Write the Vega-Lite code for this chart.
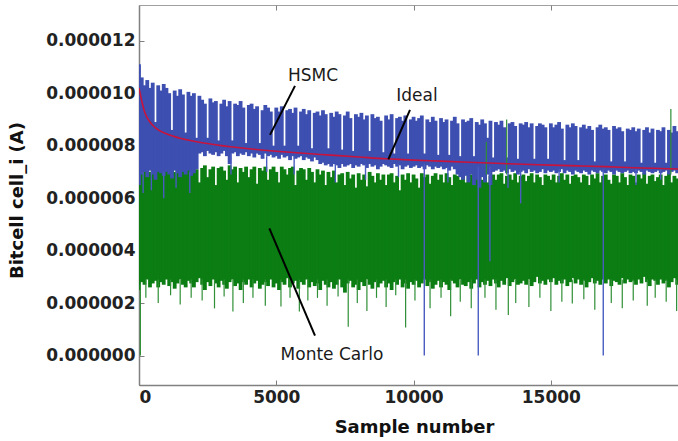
{
"$schema":"https://vega.github.io/schema/vega-lite/v6.json",
"width":539,"height":380,
"autosize":{"type":"none"},
"padding":{"left":139,"top":5,"right":0,"bottom":56},
"background":"white",
"config":{"view":{"stroke":"#a0a0a0","strokeWidth":1},"font":"DejaVu Sans"},
"datasets":{
"mc":[
{"x":0,"lo":2.5e-6,"hi":7.2e-6},{"x":100,"lo":2.8e-6,"hi":7.3e-6},{"x":200,"lo":2.7e-6,"hi":7.1e-6},{"x":300,"lo":2.9e-6,"hi":7.25e-6},{"x":400,"lo":2.6e-6,"hi":7.0e-6},{"x":500,"lo":2.75e-6,"hi":7.3e-6},{"x":600,"lo":2.85e-6,"hi":7.15e-6},{"x":700,"lo":2.6e-6,"hi":7.2e-6},{"x":800,"lo":2.8e-6,"hi":7.05e-6},{"x":900,"lo":2.7e-6,"hi":7.3e-6},
{"x":1000,"lo":2.9e-6,"hi":7.1e-6},{"x":1100,"lo":2.65e-6,"hi":7.25e-6},{"x":1200,"lo":2.8e-6,"hi":7.2e-6},{"x":1300,"lo":2.55e-6,"hi":7.0e-6},{"x":1400,"lo":2.75e-6,"hi":7.3e-6},{"x":1500,"lo":2.9e-6,"hi":7.15e-6},{"x":1600,"lo":2.7e-6,"hi":7.2e-6},{"x":1700,"lo":2.6e-6,"hi":7.1e-6},{"x":1800,"lo":2.85e-6,"hi":7.25e-6},{"x":1900,"lo":2.75e-6,"hi":7.05e-6},
{"x":2000,"lo":2.6e-6,"hi":7.2e-6},{"x":2100,"lo":2.8e-6,"hi":7.1e-6},{"x":2200,"lo":2.95e-6,"hi":6.6e-6},{"x":2300,"lo":2.7e-6,"hi":7.15e-6},{"x":2400,"lo":2.5e-6,"hi":7.25e-6},{"x":2500,"lo":2.8e-6,"hi":6.8e-6},{"x":2600,"lo":2.65e-6,"hi":7.1e-6},{"x":2700,"lo":2.9e-6,"hi":7.2e-6},{"x":2800,"lo":2.75e-6,"hi":6.5e-6},{"x":2900,"lo":2.6e-6,"hi":7.15e-6},
{"x":3000,"lo":2.85e-6,"hi":7.2e-6},{"x":3100,"lo":2.7e-6,"hi":7.05e-6},{"x":3200,"lo":2.55e-6,"hi":6.7e-6},{"x":3300,"lo":2.8e-6,"hi":7.25e-6},{"x":3400,"lo":2.9e-6,"hi":7.1e-6},{"x":3500,"lo":2.65e-6,"hi":7.2e-6},{"x":3600,"lo":2.75e-6,"hi":6.6e-6},{"x":3700,"lo":2.5e-6,"hi":7.15e-6},{"x":3800,"lo":2.8e-6,"hi":7.0e-6},{"x":3900,"lo":2.7e-6,"hi":7.2e-6},
{"x":4000,"lo":2.9e-6,"hi":6.8e-6},{"x":4100,"lo":2.6e-6,"hi":7.1e-6},{"x":4200,"lo":2.75e-6,"hi":7.2e-6},{"x":4300,"lo":2.85e-6,"hi":6.55e-6},{"x":4400,"lo":2.55e-6,"hi":7.15e-6},{"x":4500,"lo":2.7e-6,"hi":7.05e-6},{"x":4600,"lo":2.8e-6,"hi":7.2e-6},{"x":4700,"lo":2.65e-6,"hi":6.7e-6},{"x":4800,"lo":2.9e-6,"hi":7.1e-6},{"x":4900,"lo":2.6e-6,"hi":7.2e-6},
{"x":5000,"lo":2.75e-6,"hi":7.0e-6},{"x":5100,"lo":2.5e-6,"hi":6.6e-6},{"x":5200,"lo":2.8e-6,"hi":7.2e-6},{"x":5300,"lo":2.7e-6,"hi":7.1e-6},{"x":5400,"lo":2.95e-6,"hi":6.9e-6},{"x":5500,"lo":2.6e-6,"hi":7.15e-6},{"x":5600,"lo":2.75e-6,"hi":7.2e-6},{"x":5700,"lo":2.85e-6,"hi":6.5e-6},{"x":5800,"lo":2.55e-6,"hi":7.05e-6},{"x":5900,"lo":2.8e-6,"hi":7.15e-6},
{"x":6000,"lo":2.7e-6,"hi":7.1e-6},{"x":6100,"lo":2.9e-6,"hi":6.7e-6},{"x":6200,"lo":2.6e-6,"hi":7.15e-6},{"x":6300,"lo":2.8e-6,"hi":7.0e-6},{"x":6400,"lo":2.65e-6,"hi":6.6e-6},{"x":6500,"lo":2.75e-6,"hi":7.1e-6},{"x":6600,"lo":2.5e-6,"hi":6.9e-6},{"x":6700,"lo":2.85e-6,"hi":7.05e-6},{"x":6800,"lo":2.7e-6,"hi":6.5e-6},{"x":6900,"lo":2.6e-6,"hi":7.0e-6},
{"x":7000,"lo":2.8e-6,"hi":6.8e-6},{"x":7100,"lo":2.55e-6,"hi":7.05e-6},{"x":7200,"lo":2.7e-6,"hi":6.6e-6},{"x":7300,"lo":2.9e-6,"hi":6.9e-6},{"x":7400,"lo":2.6e-6,"hi":6.95e-6},{"x":7500,"lo":2.4e-6,"hi":6.5e-6},{"x":7600,"lo":2.75e-6,"hi":7.0e-6},{"x":7700,"lo":2.85e-6,"hi":6.75e-6},{"x":7800,"lo":2.6e-6,"hi":6.9e-6},{"x":7900,"lo":2.7e-6,"hi":6.4e-6},
{"x":8000,"lo":2.5e-6,"hi":6.95e-6},{"x":8100,"lo":2.8e-6,"hi":6.7e-6},{"x":8200,"lo":2.65e-6,"hi":6.9e-6},{"x":8300,"lo":2.9e-6,"hi":6.45e-6},{"x":8400,"lo":2.7e-6,"hi":7.0e-6},{"x":8500,"lo":2.55e-6,"hi":6.85e-6},{"x":8600,"lo":2.8e-6,"hi":6.6e-6},{"x":8700,"lo":2.6e-6,"hi":6.95e-6},{"x":8800,"lo":2.75e-6,"hi":6.7e-6},{"x":8900,"lo":2.85e-6,"hi":6.9e-6},
{"x":9000,"lo":2.6e-6,"hi":6.5e-6},{"x":9100,"lo":2.75e-6,"hi":6.9e-6},{"x":9200,"lo":2.5e-6,"hi":6.95e-6},{"x":9300,"lo":2.8e-6,"hi":6.6e-6},{"x":9400,"lo":2.7e-6,"hi":6.85e-6},{"x":9500,"lo":2.9e-6,"hi":6.3e-6},{"x":9600,"lo":2.6e-6,"hi":6.9e-6},{"x":9700,"lo":2.75e-6,"hi":6.7e-6},{"x":9800,"lo":2.55e-6,"hi":6.95e-6},{"x":9900,"lo":2.8e-6,"hi":6.6e-6},
{"x":10000,"lo":2.7e-6,"hi":6.9e-6},{"x":10100,"lo":2.85e-6,"hi":6.75e-6},{"x":10200,"lo":2.6e-6,"hi":6.4e-6},{"x":10300,"lo":2.75e-6,"hi":6.95e-6},{"x":10400,"lo":2.9e-6,"hi":6.8e-6},{"x":10500,"lo":2.65e-6,"hi":6.9e-6},{"x":10600,"lo":2.8e-6,"hi":6.55e-6},{"x":10700,"lo":2.55e-6,"hi":6.85e-6},{"x":10800,"lo":2.7e-6,"hi":6.95e-6},{"x":10900,"lo":2.85e-6,"hi":6.7e-6},
{"x":11000,"lo":2.6e-6,"hi":6.9e-6},{"x":11100,"lo":2.8e-6,"hi":6.6e-6},{"x":11200,"lo":2.7e-6,"hi":6.95e-6},{"x":11300,"lo":2.5e-6,"hi":6.8e-6},{"x":11400,"lo":2.85e-6,"hi":6.5e-6},{"x":11500,"lo":2.75e-6,"hi":6.9e-6},{"x":11600,"lo":2.6e-6,"hi":6.85e-6},{"x":11700,"lo":2.9e-6,"hi":6.7e-6},{"x":11800,"lo":2.7e-6,"hi":6.95e-6},{"x":11900,"lo":2.65e-6,"hi":6.6e-6},
{"x":12000,"lo":2.8e-6,"hi":6.85e-6},{"x":12100,"lo":2.55e-6,"hi":6.9e-6},{"x":12200,"lo":2.75e-6,"hi":6.5e-6},{"x":12300,"lo":2.9e-6,"hi":6.8e-6},{"x":12400,"lo":2.6e-6,"hi":6.95e-6},{"x":12500,"lo":2.8e-6,"hi":6.7e-6},{"x":12600,"lo":2.7e-6,"hi":6.9e-6},{"x":12700,"lo":2.85e-6,"hi":6.6e-6},{"x":12800,"lo":2.65e-6,"hi":6.85e-6},{"x":12900,"lo":2.9e-6,"hi":6.9e-6},
{"x":13000,"lo":2.75e-6,"hi":6.7e-6},{"x":13100,"lo":2.6e-6,"hi":6.9e-6},{"x":13200,"lo":2.85e-6,"hi":6.95e-6},{"x":13300,"lo":2.7e-6,"hi":6.55e-6},{"x":13400,"lo":2.95e-6,"hi":6.85e-6},{"x":13500,"lo":2.65e-6,"hi":6.9e-6},{"x":13600,"lo":2.8e-6,"hi":6.7e-6},{"x":13700,"lo":2.9e-6,"hi":6.95e-6},{"x":13800,"lo":2.7e-6,"hi":6.6e-6},{"x":13900,"lo":2.75e-6,"hi":6.85e-6},
{"x":14000,"lo":2.85e-6,"hi":6.9e-6},{"x":14100,"lo":2.7e-6,"hi":6.65e-6},{"x":14200,"lo":2.9e-6,"hi":6.85e-6},{"x":14300,"lo":2.65e-6,"hi":6.95e-6},{"x":14400,"lo":2.8e-6,"hi":6.6e-6},{"x":14500,"lo":3.0e-6,"hi":6.9e-6},{"x":14600,"lo":2.75e-6,"hi":6.8e-6},{"x":14700,"lo":2.85e-6,"hi":6.5e-6},{"x":14800,"lo":2.7e-6,"hi":6.9e-6},{"x":14900,"lo":2.9e-6,"hi":6.85e-6},
{"x":15000,"lo":2.8e-6,"hi":6.7e-6},{"x":15100,"lo":2.95e-6,"hi":6.9e-6},{"x":15200,"lo":2.7e-6,"hi":6.6e-6},{"x":15300,"lo":2.85e-6,"hi":6.85e-6},{"x":15400,"lo":2.75e-6,"hi":6.95e-6},{"x":15500,"lo":2.9e-6,"hi":6.7e-6},{"x":15600,"lo":2.65e-6,"hi":6.9e-6},{"x":15700,"lo":2.8e-6,"hi":6.55e-6},{"x":15800,"lo":2.95e-6,"hi":6.85e-6},{"x":15900,"lo":2.75e-6,"hi":6.9e-6},
{"x":16000,"lo":2.9e-6,"hi":6.8e-6},{"x":16100,"lo":2.7e-6,"hi":6.6e-6},{"x":16200,"lo":2.85e-6,"hi":6.9e-6},{"x":16300,"lo":2.6e-6,"hi":6.85e-6},{"x":16400,"lo":2.8e-6,"hi":6.5e-6},{"x":16500,"lo":2.95e-6,"hi":6.9e-6},{"x":16600,"lo":2.75e-6,"hi":6.75e-6},{"x":16700,"lo":2.85e-6,"hi":6.95e-6},{"x":16800,"lo":2.7e-6,"hi":6.6e-6},{"x":16900,"lo":2.9e-6,"hi":6.85e-6},
{"x":17000,"lo":2.75e-6,"hi":6.9e-6},{"x":17100,"lo":2.9e-6,"hi":6.7e-6},{"x":17200,"lo":2.65e-6,"hi":6.55e-6},{"x":17300,"lo":2.85e-6,"hi":6.9e-6},{"x":17400,"lo":2.8e-6,"hi":6.85e-6},{"x":17500,"lo":2.7e-6,"hi":6.6e-6},{"x":17600,"lo":2.95e-6,"hi":6.95e-6},{"x":17700,"lo":2.75e-6,"hi":6.8e-6},{"x":17800,"lo":2.9e-6,"hi":6.5e-6},{"x":17900,"lo":2.8e-6,"hi":6.9e-6},
{"x":18000,"lo":2.85e-6,"hi":6.85e-6},{"x":18100,"lo":2.7e-6,"hi":6.6e-6},{"x":18200,"lo":2.9e-6,"hi":6.9e-6},{"x":18300,"lo":2.75e-6,"hi":6.75e-6},{"x":18400,"lo":3.0e-6,"hi":6.95e-6},{"x":18500,"lo":2.8e-6,"hi":6.55e-6},{"x":18600,"lo":2.65e-6,"hi":6.85e-6},{"x":18700,"lo":2.9e-6,"hi":6.9e-6},{"x":18800,"lo":2.85e-6,"hi":6.65e-6},{"x":18900,"lo":2.7e-6,"hi":6.8e-6},
{"x":19000,"lo":2.9e-6,"hi":6.9e-6},{"x":19100,"lo":2.75e-6,"hi":6.5e-6},{"x":19200,"lo":2.85e-6,"hi":6.85e-6},{"x":19300,"lo":2.6e-6,"hi":6.95e-6},{"x":19400,"lo":2.8e-6,"hi":6.6e-6},{"x":19500,"lo":2.95e-6,"hi":6.85e-6},{"x":19600,"lo":2.7e-6,"hi":6.75e-6}
],
"hs":[
{"x":0,"lo":6.5e-6,"hi":11.1e-6},{"x":100,"lo":6.9e-6,"hi":10.6e-6},{"x":200,"lo":7.0e-6,"hi":10.3e-6},{"x":300,"lo":6.8e-6,"hi":10.5e-6},{"x":400,"lo":7.05e-6,"hi":10.2e-6},{"x":500,"lo":6.9e-6,"hi":10.4e-6},{"x":600,"lo":6.7e-6,"hi":8.9e-6},{"x":700,"lo":7.0e-6,"hi":10.3e-6},{"x":800,"lo":6.95e-6,"hi":10.1e-6},{"x":900,"lo":6.85e-6,"hi":10.35e-6},
{"x":1000,"lo":7.0e-6,"hi":10.2e-6},{"x":1100,"lo":6.9e-6,"hi":10.0e-6},{"x":1200,"lo":6.75e-6,"hi":8.6e-6},{"x":1300,"lo":7.05e-6,"hi":10.1e-6},{"x":1400,"lo":6.95e-6,"hi":9.9e-6},{"x":1500,"lo":6.8e-6,"hi":10.15e-6},{"x":1600,"lo":7.0e-6,"hi":9.95e-6},{"x":1700,"lo":6.9e-6,"hi":8.5e-6},{"x":1800,"lo":7.05e-6,"hi":10.05e-6},{"x":1900,"lo":6.85e-6,"hi":9.9e-6},
{"x":2000,"lo":6.95e-6,"hi":10.0e-6},{"x":2100,"lo":7.1e-6,"hi":8.3e-6},{"x":2200,"lo":7.7e-6,"hi":9.9e-6},{"x":2300,"lo":7.75e-6,"hi":9.75e-6},{"x":2400,"lo":7.6e-6,"hi":9.6e-6},{"x":2500,"lo":7.8e-6,"hi":8.3e-6},{"x":2600,"lo":7.7e-6,"hi":9.8e-6},{"x":2700,"lo":7.65e-6,"hi":9.65e-6},{"x":2800,"lo":7.75e-6,"hi":9.7e-6},{"x":2900,"lo":7.6e-6,"hi":8.2e-6},
{"x":3000,"lo":7.7e-6,"hi":9.6e-6},{"x":3100,"lo":7.8e-6,"hi":9.75e-6},{"x":3200,"lo":7.6e-6,"hi":9.5e-6},{"x":3300,"lo":7.3e-6,"hi":9.7e-6},{"x":3400,"lo":7.7e-6,"hi":8.2e-6},{"x":3500,"lo":7.75e-6,"hi":9.6e-6},{"x":3600,"lo":7.6e-6,"hi":9.55e-6},{"x":3700,"lo":7.7e-6,"hi":9.7e-6},{"x":3800,"lo":7.65e-6,"hi":9.45e-6},{"x":3900,"lo":7.75e-6,"hi":8.1e-6},
{"x":4000,"lo":7.6e-6,"hi":9.55e-6},{"x":4100,"lo":7.7e-6,"hi":9.6e-6},{"x":4200,"lo":7.55e-6,"hi":9.4e-6},{"x":4300,"lo":7.7e-6,"hi":9.5e-6},{"x":4400,"lo":7.65e-6,"hi":8.1e-6},{"x":4500,"lo":7.5e-6,"hi":9.35e-6},{"x":4600,"lo":7.7e-6,"hi":9.55e-6},{"x":4700,"lo":7.6e-6,"hi":9.45e-6},{"x":4800,"lo":7.65e-6,"hi":9.3e-6},{"x":4900,"lo":7.55e-6,"hi":8.0e-6},
{"x":5000,"lo":7.6e-6,"hi":9.45e-6},{"x":5100,"lo":7.5e-6,"hi":9.3e-6},{"x":5200,"lo":7.65e-6,"hi":9.5e-6},{"x":5300,"lo":7.55e-6,"hi":8.0e-6},{"x":5400,"lo":7.6e-6,"hi":9.35e-6},{"x":5500,"lo":7.45e-6,"hi":9.4e-6},{"x":5600,"lo":7.6e-6,"hi":9.25e-6},{"x":5700,"lo":7.5e-6,"hi":9.45e-6},{"x":5800,"lo":7.55e-6,"hi":8.0e-6},{"x":5900,"lo":7.6e-6,"hi":9.3e-6},
{"x":6000,"lo":7.45e-6,"hi":9.4e-6},{"x":6100,"lo":7.55e-6,"hi":9.2e-6},{"x":6200,"lo":7.5e-6,"hi":9.35e-6},{"x":6300,"lo":7.4e-6,"hi":7.9e-6},{"x":6400,"lo":7.55e-6,"hi":9.25e-6},{"x":6500,"lo":7.45e-6,"hi":9.3e-6},{"x":6600,"lo":7.3e-6,"hi":9.15e-6},{"x":6700,"lo":7.35e-6,"hi":9.35e-6},{"x":6800,"lo":7.25e-6,"hi":9.2e-6},{"x":6900,"lo":7.3e-6,"hi":7.9e-6},
{"x":7000,"lo":7.2e-6,"hi":9.25e-6},{"x":7100,"lo":7.3e-6,"hi":9.1e-6},{"x":7200,"lo":7.25e-6,"hi":9.3e-6},{"x":7300,"lo":7.15e-6,"hi":9.2e-6},{"x":7400,"lo":7.3e-6,"hi":7.85e-6},{"x":7500,"lo":7.2e-6,"hi":9.15e-6},{"x":7600,"lo":7.25e-6,"hi":9.3e-6},{"x":7700,"lo":7.3e-6,"hi":9.05e-6},{"x":7800,"lo":7.15e-6,"hi":7.8e-6},{"x":7900,"lo":7.25e-6,"hi":9.2e-6},
{"x":8000,"lo":7.2e-6,"hi":9.1e-6},{"x":8100,"lo":7.3e-6,"hi":9.25e-6},{"x":8200,"lo":7.25e-6,"hi":9.0e-6},{"x":8300,"lo":7.15e-6,"hi":9.15e-6},{"x":8400,"lo":7.3e-6,"hi":7.8e-6},{"x":8500,"lo":7.2e-6,"hi":9.2e-6},{"x":8600,"lo":7.25e-6,"hi":9.05e-6},{"x":8700,"lo":7.1e-6,"hi":9.1e-6},{"x":8800,"lo":7.2e-6,"hi":8.95e-6},{"x":8900,"lo":7.3e-6,"hi":7.75e-6},
{"x":9000,"lo":7.25e-6,"hi":9.15e-6},{"x":9100,"lo":7.2e-6,"hi":9.0e-6},{"x":9200,"lo":7.15e-6,"hi":9.2e-6},{"x":9300,"lo":7.3e-6,"hi":7.7e-6},{"x":9400,"lo":7.2e-6,"hi":9.05e-6},{"x":9500,"lo":7.25e-6,"hi":9.1e-6},{"x":9600,"lo":7.1e-6,"hi":8.95e-6},{"x":9700,"lo":7.2e-6,"hi":9.15e-6},{"x":9800,"lo":7.25e-6,"hi":7.7e-6},{"x":9900,"lo":7.15e-6,"hi":9.0e-6},
{"x":10000,"lo":7.2e-6,"hi":9.1e-6},{"x":10100,"lo":7.25e-6,"hi":8.95e-6},{"x":10200,"lo":7.15e-6,"hi":9.05e-6},{"x":10300,"lo":7.2e-6,"hi":9.15e-6},{"x":10400,"lo":7.1e-6,"hi":7.7e-6},{"x":10500,"lo":7.25e-6,"hi":9.0e-6},{"x":10600,"lo":7.2e-6,"hi":8.9e-6},{"x":10700,"lo":7.1e-6,"hi":9.1e-6},{"x":10800,"lo":7.2e-6,"hi":8.95e-6},{"x":10900,"lo":7.15e-6,"hi":7.65e-6},
{"x":11000,"lo":7.2e-6,"hi":9.05e-6},{"x":11100,"lo":7.1e-6,"hi":8.9e-6},{"x":11200,"lo":7.15e-6,"hi":9.0e-6},{"x":11300,"lo":7.05e-6,"hi":7.65e-6},{"x":11400,"lo":7.2e-6,"hi":8.95e-6},{"x":11500,"lo":7.1e-6,"hi":9.1e-6},{"x":11600,"lo":6.9e-6,"hi":8.85e-6},{"x":11700,"lo":6.8e-6,"hi":7.6e-6},{"x":11800,"lo":6.7e-6,"hi":9.0e-6},{"x":11900,"lo":6.85e-6,"hi":8.9e-6},
{"x":12000,"lo":6.6e-6,"hi":8.95e-6},{"x":12100,"lo":6.9e-6,"hi":9.05e-6},{"x":12200,"lo":6.5e-6,"hi":7.6e-6},{"x":12300,"lo":6.7e-6,"hi":8.9e-6},{"x":12400,"lo":6.4e-6,"hi":8.8e-6},{"x":12500,"lo":6.8e-6,"hi":9.0e-6},{"x":12600,"lo":6.6e-6,"hi":8.85e-6},{"x":12700,"lo":6.9e-6,"hi":8.3e-6},{"x":12800,"lo":6.5e-6,"hi":8.95e-6},{"x":12900,"lo":7.0e-6,"hi":7.55e-6},
{"x":13000,"lo":7.05e-6,"hi":8.9e-6},{"x":13100,"lo":7.1e-6,"hi":8.8e-6},{"x":13200,"lo":7.0e-6,"hi":8.95e-6},{"x":13300,"lo":7.05e-6,"hi":8.7e-6},{"x":13400,"lo":6.95e-6,"hi":7.55e-6},{"x":13500,"lo":7.1e-6,"hi":8.85e-6},{"x":13600,"lo":7.0e-6,"hi":8.9e-6},{"x":13700,"lo":7.05e-6,"hi":8.75e-6},{"x":13800,"lo":6.9e-6,"hi":7.5e-6},{"x":13900,"lo":7.0e-6,"hi":8.85e-6},
{"x":14000,"lo":7.05e-6,"hi":8.8e-6},{"x":14100,"lo":6.95e-6,"hi":8.9e-6},{"x":14200,"lo":7.1e-6,"hi":8.7e-6},{"x":14300,"lo":7.0e-6,"hi":8.85e-6},{"x":14400,"lo":7.05e-6,"hi":7.5e-6},{"x":14500,"lo":6.95e-6,"hi":8.75e-6},{"x":14600,"lo":7.0e-6,"hi":8.85e-6},{"x":14700,"lo":7.1e-6,"hi":8.8e-6},{"x":14800,"lo":6.95e-6,"hi":8.7e-6},{"x":14900,"lo":7.05e-6,"hi":7.5e-6},
{"x":15000,"lo":7.0e-6,"hi":8.85e-6},{"x":15100,"lo":7.05e-6,"hi":8.7e-6},{"x":15200,"lo":6.95e-6,"hi":8.8e-6},{"x":15300,"lo":7.0e-6,"hi":8.9e-6},{"x":15400,"lo":7.1e-6,"hi":8.65e-6},{"x":15500,"lo":6.95e-6,"hi":7.45e-6},{"x":15600,"lo":7.05e-6,"hi":8.8e-6},{"x":15700,"lo":7.0e-6,"hi":8.7e-6},{"x":15800,"lo":6.9e-6,"hi":8.85e-6},{"x":15900,"lo":7.05e-6,"hi":8.75e-6},
{"x":16000,"lo":7.0e-6,"hi":7.45e-6},{"x":16100,"lo":6.95e-6,"hi":8.7e-6},{"x":16200,"lo":7.05e-6,"hi":8.8e-6},{"x":16300,"lo":7.0e-6,"hi":8.65e-6},{"x":16400,"lo":6.9e-6,"hi":8.75e-6},{"x":16500,"lo":7.05e-6,"hi":8.6e-6},{"x":16600,"lo":7.0e-6,"hi":7.4e-6},{"x":16700,"lo":6.95e-6,"hi":8.7e-6},{"x":16800,"lo":7.05e-6,"hi":8.8e-6},{"x":16900,"lo":7.0e-6,"hi":8.65e-6},
{"x":17000,"lo":6.95e-6,"hi":8.7e-6},{"x":17100,"lo":7.05e-6,"hi":8.6e-6},{"x":17200,"lo":7.0e-6,"hi":7.4e-6},{"x":17300,"lo":6.9e-6,"hi":8.75e-6},{"x":17400,"lo":7.05e-6,"hi":8.65e-6},{"x":17500,"lo":7.0e-6,"hi":8.7e-6},{"x":17600,"lo":6.95e-6,"hi":8.55e-6},{"x":17700,"lo":7.0e-6,"hi":7.4e-6},{"x":17800,"lo":7.05e-6,"hi":8.65e-6},{"x":17900,"lo":6.95e-6,"hi":8.6e-6},
{"x":18000,"lo":7.0e-6,"hi":8.7e-6},{"x":18100,"lo":6.95e-6,"hi":8.55e-6},{"x":18200,"lo":7.05e-6,"hi":8.65e-6},{"x":18300,"lo":7.0e-6,"hi":7.35e-6},{"x":18400,"lo":6.9e-6,"hi":8.6e-6},{"x":18500,"lo":7.05e-6,"hi":8.7e-6},{"x":18600,"lo":7.0e-6,"hi":8.5e-6},{"x":18700,"lo":6.95e-6,"hi":8.65e-6},{"x":18800,"lo":7.0e-6,"hi":7.35e-6},{"x":18900,"lo":7.05e-6,"hi":8.6e-6},
{"x":19000,"lo":6.95e-6,"hi":8.55e-6},{"x":19100,"lo":7.0e-6,"hi":8.7e-6},{"x":19200,"lo":7.05e-6,"hi":7.35e-6},{"x":19300,"lo":6.9e-6,"hi":8.6e-6},{"x":19400,"lo":7.0e-6,"hi":8.5e-6},{"x":19500,"lo":7.05e-6,"hi":8.75e-6},{"x":19600,"lo":6.95e-6,"hi":8.55e-6}
],
"mcs":[
{"x":50,"lo":0,"hi":2.7e-6},{"x":250,"lo":2.2e-6,"hi":2.9e-6},{"x":700,"lo":2.0e-6,"hi":2.9e-6},{"x":1150,"lo":2.3e-6,"hi":2.9e-6},{"x":1500,"lo":1.95e-6,"hi":2.9e-6},{"x":1900,"lo":2.2e-6,"hi":2.9e-6},{"x":2300,"lo":2.1e-6,"hi":2.9e-6},{"x":2750,"lo":1.8e-6,"hi":2.9e-6},{"x":3100,"lo":2.25e-6,"hi":2.9e-6},{"x":3420,"lo":1.68e-6,"hi":2.9e-6},{"x":3800,"lo":2.0e-6,"hi":2.9e-6},{"x":4150,"lo":2.2e-6,"hi":2.9e-6},{"x":4600,"lo":1.9e-6,"hi":2.9e-6},{"x":5170,"lo":1.87e-6,"hi":2.9e-6},{"x":5500,"lo":2.2e-6,"hi":2.9e-6},{"x":5840,"lo":1.68e-6,"hi":2.9e-6},{"x":6150,"lo":2.1e-6,"hi":2.9e-6},{"x":6500,"lo":2.2e-6,"hi":2.9e-6},{"x":6850,"lo":1.9e-6,"hi":2.9e-6},{"x":7250,"lo":2.25e-6,"hi":2.9e-6},{"x":7620,"lo":1.1e-6,"hi":2.9e-6},{"x":7950,"lo":2.0e-6,"hi":2.9e-6},{"x":8300,"lo":1.7e-6,"hi":2.9e-6},{"x":8650,"lo":2.2e-6,"hi":2.9e-6},{"x":9000,"lo":1.85e-6,"hi":2.9e-6},{"x":9350,"lo":2.3e-6,"hi":2.9e-6},{"x":9710,"lo":1.07e-6,"hi":2.9e-6},{"x":10050,"lo":2.1e-6,"hi":2.9e-6},{"x":10600,"lo":1.8e-6,"hi":2.9e-6},{"x":11000,"lo":2.2e-6,"hi":2.9e-6},{"x":11350,"lo":1.5e-6,"hi":2.9e-6},{"x":11700,"lo":2.05e-6,"hi":2.9e-6},{"x":12100,"lo":1.8e-6,"hi":2.9e-6},{"x":12600,"lo":2.2e-6,"hi":2.9e-6},{"x":13000,"lo":1.75e-6,"hi":2.9e-6},{"x":13450,"lo":1.55e-6,"hi":2.9e-6},{"x":13720,"lo":2.0e-6,"hi":2.9e-6},{"x":14200,"lo":1.85e-6,"hi":2.9e-6},{"x":14600,"lo":2.2e-6,"hi":2.9e-6},{"x":15000,"lo":1.7e-6,"hi":2.9e-6},{"x":15400,"lo":2.05e-6,"hi":2.9e-6},{"x":15780,"lo":1.99e-6,"hi":2.9e-6},{"x":16200,"lo":2.15e-6,"hi":2.9e-6},{"x":16600,"lo":1.75e-6,"hi":2.9e-6},{"x":17200,"lo":2.0e-6,"hi":2.9e-6},{"x":17600,"lo":1.8e-6,"hi":2.9e-6},{"x":18000,"lo":2.1e-6,"hi":2.9e-6},{"x":18510,"lo":1.9e-6,"hi":2.9e-6},{"x":18800,"lo":2.2e-6,"hi":2.9e-6},{"x":19200,"lo":2.05e-6,"hi":2.9e-6},{"x":19580,"lo":1.7e-6,"hi":2.9e-6},
{"x":12650,"lo":6.9e-6,"hi":8.15e-6},{"x":13390,"lo":6.9e-6,"hi":9.0e-6},{"x":19370,"lo":6.9e-6,"hi":9.4e-6}
],
"hss":[
{"x":150,"lo":6.2e-6,"hi":7.0e-6},{"x":450,"lo":6.3e-6,"hi":7.0e-6},{"x":900,"lo":6.0e-6,"hi":7.0e-6},{"x":1350,"lo":6.4e-6,"hi":7.0e-6},{"x":1850,"lo":6.2e-6,"hi":7.0e-6},{"x":3350,"lo":6.9e-6,"hi":7.7e-6},{"x":4650,"lo":7.0e-6,"hi":7.6e-6},{"x":5650,"lo":6.9e-6,"hi":7.6e-6},{"x":7150,"lo":6.6e-6,"hi":7.3e-6},{"x":8250,"lo":6.7e-6,"hi":7.3e-6},{"x":9450,"lo":6.8e-6,"hi":7.3e-6},{"x":10390,"lo":0,"hi":7.3e-6},{"x":11250,"lo":6.6e-6,"hi":7.2e-6},{"x":12356,"lo":0,"hi":7.2e-6},{"x":12780,"lo":3.6e-6,"hi":7.2e-6},{"x":13440,"lo":6.4e-6,"hi":7.1e-6},{"x":13900,"lo":5.8e-6,"hi":7.1e-6},{"x":15300,"lo":6.6e-6,"hi":7.1e-6},{"x":16908,"lo":0,"hi":7.1e-6},{"x":18100,"lo":6.5e-6,"hi":7.1e-6},{"x":19000,"lo":6.7e-6,"hi":7.1e-6}
],
"ideal":[
{"x":0,"y":10.2e-6},{"x":100,"y":9.7e-6},{"x":200,"y":9.3e-6},{"x":400,"y":8.9e-6},{"x":600,"y":8.68e-6},{"x":1000,"y":8.45e-6},{"x":1500,"y":8.28e-6},{"x":2000,"y":8.17e-6},{"x":2500,"y":8.08e-6},{"x":3000,"y":8.0e-6},{"x":3500,"y":7.94e-6},{"x":4000,"y":7.88e-6},{"x":5000,"y":7.79e-6},{"x":6000,"y":7.71e-6},{"x":7000,"y":7.64e-6},{"x":8000,"y":7.57e-6},{"x":9000,"y":7.5e-6},{"x":10000,"y":7.45e-6},{"x":11000,"y":7.41e-6},{"x":12000,"y":7.37e-6},{"x":13000,"y":7.33e-6},{"x":14000,"y":7.29e-6},{"x":15000,"y":7.26e-6},{"x":16000,"y":7.23e-6},{"x":17000,"y":7.2e-6},{"x":18000,"y":7.16e-6},{"x":19000,"y":7.13e-6},{"x":19630,"y":7.11e-6}
],
"leaders":[
{"x":5681,"y":10.28e-6,"x2":4771,"y2":8.41e-6},{"x":9869,"y":9.36e-6,"x2":9080,"y2":7.48e-6},{"x":4747,"y":4.85e-6,"x2":6409,"y2":0.76e-6}
],
"notes":[
{"x":6336,"y":10.66e-6,"t":"HSMC"},{"x":10124,"y":9.9e-6,"t":"Ideal"},{"x":7028,"y":0.03e-6,"t":"Monte Carlo"}
]
},
"resolve":{"axis":{"x":"independent"}},
"layer":[
{"data":{"name":"mc"},"mark":{"type":"rule","color":"#0b7d13","strokeWidth":3.8,"clip":true},
 "encoding":{
  "x":{"field":"x","type":"quantitative","scale":{"domain":[0,19630],"nice":false,"zero":false},
   "axis":{"title":"Sample number","values":[0,5000,10000,15000],"format":"d","grid":false,"domainColor":"#808080","domainWidth":1.5,"tickColor":"#808080","tickSize":-5,"tickWidth":1,"labelPadding":9,"labelFont":"DejaVu Sans","labelFontSize":17,"labelFontWeight":"bold","labelColor":"#222","titleFont":"DejaVu Sans","titleFontSize":18,"titleFontWeight":"bold","titleColor":"#111","titleX":275,"titleY":47,"titleBaseline":"alphabetic","titleAnchor":null}},
  "y":{"field":"lo","type":"quantitative","scale":{"domain":[-1.12e-6,13.36e-6],"nice":false,"zero":false},
   "axis":{"title":"Bitcell cell_i (A)","values":[0,2e-6,4e-6,6e-6,8e-6,10e-6,12e-6],"format":".6f","grid":false,"domainColor":"#808080","domainWidth":1.5,"tickColor":"#808080","tickSize":-5,"tickWidth":1,"labelPadding":9,"labelFont":"DejaVu Sans","labelFontSize":17,"labelFontWeight":"bold","labelColor":"#222","titleFont":"DejaVu Sans","titleFontSize":18,"titleFontWeight":"bold","titleColor":"#111","titleX":-122,"titleY":195,"titleBaseline":"middle","titleAngle":-90}},
  "y2":{"field":"hi"}}},
{"data":{"name":"hs"},"mark":{"type":"rule","color":"#3d4fb0","strokeWidth":3.8,"clip":true},
 "encoding":{
  "x":{"field":"x","type":"quantitative","axis":{"orient":"top","title":null,"labels":false,"domain":false,"grid":false,"values":[5000,10000,15000],"tickColor":"#808080","tickSize":-5}},
  "y":{"field":"lo","type":"quantitative"},"y2":{"field":"hi"}}},
{"data":{"name":"mcs"},"mark":{"type":"rule","color":"#2f8f35","strokeWidth":1.2,"clip":true},
 "encoding":{"x":{"field":"x","type":"quantitative","axis":null},"y":{"field":"lo","type":"quantitative"},"y2":{"field":"hi"}}},
{"data":{"name":"hss"},"mark":{"type":"rule","color":"#4a5cc0","strokeWidth":1.4,"clip":true},
 "encoding":{"x":{"field":"x","type":"quantitative","axis":null},"y":{"field":"lo","type":"quantitative"},"y2":{"field":"hi"}}},
{"data":{"name":"ideal"},"mark":{"type":"line","color":"#c8143c","strokeWidth":1.6,"interpolate":"monotone","clip":true},
 "encoding":{"x":{"field":"x","type":"quantitative","axis":null},"y":{"field":"y","type":"quantitative"}}},
{"data":{"name":"leaders"},"mark":{"type":"rule","color":"#000","strokeWidth":2},
 "encoding":{"x":{"field":"x","type":"quantitative","axis":null},"y":{"field":"y","type":"quantitative"},"x2":{"field":"x2"},"y2":{"field":"y2"}}},
{"data":{"name":"notes"},"mark":{"type":"text","font":"DejaVu Sans","fontSize":17,"color":"#1a1a1a","align":"center","baseline":"middle"},
 "encoding":{"x":{"field":"x","type":"quantitative","axis":null},"y":{"field":"y","type":"quantitative"},"text":{"field":"t"}}}
]
}
